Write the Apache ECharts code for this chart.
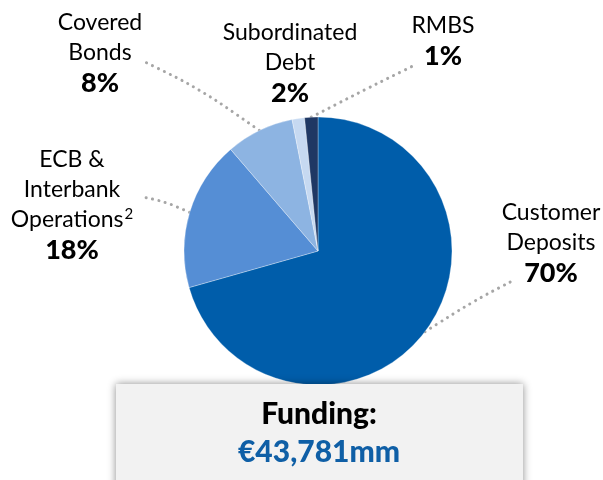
<!DOCTYPE html>
<html>
<head>
<meta charset="utf-8">
<script src="https://cdn.jsdelivr.net/npm/echarts@6/dist/echarts.min.js"></script>
<style>
  html, body { margin: 0; padding: 0; background: #fff; }
  #fundingChart { width: 603px; height: 480px; }
</style>
</head>
<body>
<div id="fundingChart"></div>
<script>
// funding mix, clockwise from 12 o'clock
const categories = ['Customer\nDeposits', 'ECB &\nInterbank\nOperations²', 'Covered\nBonds', 'Subordinated\nDebt', 'RMBS'];
// slice sizes, printed labels are rounded
const shares = [70.6, 18.1, 8.2, 1.5, 1.6];
const shareLabels = ['70%', '18%', '8%', '2%', '1%'];
const sliceColors = ['#005DAA', '#558ED5', '#8DB4E2', '#C6D9F1', '#1F3864'];
const boxTitle = 'Funding:';
const totalFunding = '€43,781mm';

// where each label block sits, and where its dotted line leaves it
const labelSpots = [
  { x: 551, y: 243, mid: [472, 302], end: [514, 280] },
  { x: 72, y: 205, mid: [166, 202], end: [143, 197] },
  { x: 100, y: 53, mid: [200, 89], end: [143, 61] },
  { x: 290, y: 63 },
  { x: 443, y: 41, mid: [368, 88], end: [417, 64] }
];

const chartDom = document.getElementById('fundingChart');
const myChart = echarts.init(chartDom);

const pieData = categories.map((name, i) => {
  const item = { name: name, value: shares[i], itemStyle: { color: sliceColors[i] } };
  if (!labelSpots[i].end) item.labelLine = { show: false };
  return item;
});

const option = {
  animation: false,
  textStyle: { fontFamily: 'Lato' },
  series: [
    {
      type: 'pie',
      center: [318, 251],
      radius: 134,
      startAngle: 90,
      clockwise: true,
      avoidLabelOverlap: false,
      itemStyle: { borderColor: 'rgba(255,255,255,0.5)', borderWidth: 0.6 },
      label: {
        show: true,
        position: 'outside',
        formatter: (p) => {
          const lines = p.name.split('\n').map((t) => '{n|' + t.replace('²', '}{s|2}{n|') + '}');
          return lines.join('\n') + '\n{p|' + shareLabels[p.dataIndex] + '}';
        },
        rich: {
          n: { fontFamily: 'Lato', fontSize: 23, color: '#000', lineHeight: 30 },
          s: { fontFamily: 'Lato', fontSize: 15, color: '#000', lineHeight: 30, verticalAlign: 'top', padding: [2, 0, 0, 1] },
          p: { fontFamily: 'Lato', fontSize: 27, fontWeight: 900, color: '#000', lineHeight: 31 }
        }
      },
      labelLine: {
        show: true,
        smooth: 0.3,
        lineStyle: { color: '#A6A6A6', width: 3, type: [0.1, 6.5], cap: 'round' }
      },
      labelLayout: (params) => {
        const s = labelSpots[params.dataIndex];
        const out = { x: s.x, y: s.y, align: 'center', verticalAlign: 'middle', hideOverlap: false };
        if (s.end && params.labelLinePoints) {
          out.labelLinePoints = [params.labelLinePoints[0], s.mid, s.end];
        }
        return out;
      },
      emphasis: { disabled: true },
      data: pieData
    }
  ],
  graphic: [
    {
      type: 'rect',
      left: 116,
      top: 384,
      z: 100,
      shape: { width: 407, height: 130 },
      style: { fill: '#F2F2F2', shadowBlur: 8, shadowColor: 'rgba(0,0,0,0.45)', shadowOffsetY: 0 }
    },
    {
      type: 'text',
      x: 319,
      y: 414,
      z: 101,
      style: {
        text: boxTitle,
        align: 'center',
        verticalAlign: 'middle',
        fontFamily: 'Lato',
        fontSize: 30,
        fontWeight: 900,
        fill: '#000'
      }
    },
    {
      type: 'text',
      x: 319,
      y: 452,
      z: 101,
      style: {
        text: totalFunding,
        align: 'center',
        verticalAlign: 'middle',
        fontFamily: 'Lato',
        fontSize: 30,
        fontWeight: 900,
        fill: '#0F5FA6'
      }
    }
  ]
};

option && myChart.setOption(option);
</script>
</body>
</html>
